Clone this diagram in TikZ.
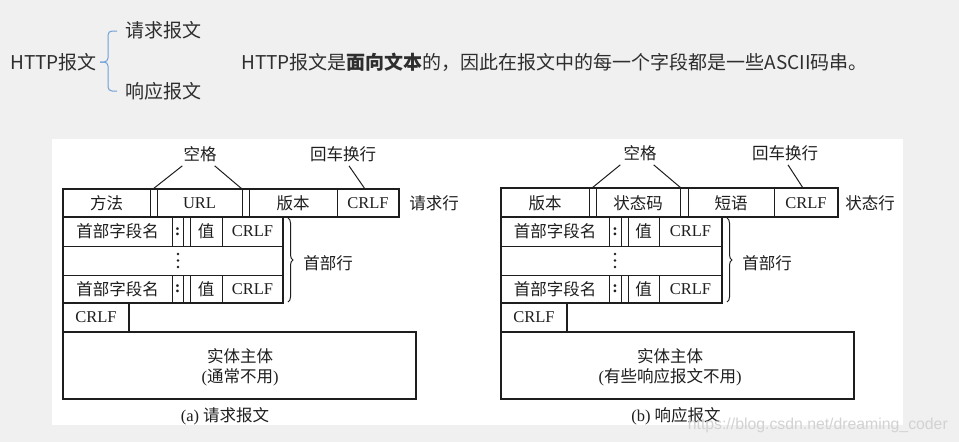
\documentclass[tikz,border=0pt]{standalone}
\usepackage{fontspec}
\setmainfont{Liberation Serif}
\newfontfamily\cjk{Noto Sans CJK SC}
\newfontfamily\wmfont{Liberation Sans}
\usetikzlibrary{decorations.pathreplacing}
\definecolor{ink}{HTML}{1E1E1E}
\definecolor{slide}{HTML}{F0F0F0}
\definecolor{bracecol}{HTML}{6FA0D6}
\definecolor{wm}{HTML}{D2D2D2}
\definecolor{toptext}{HTML}{2E2E2E}
\begin{document}
\begin{tikzpicture}[x=1pt,y=-1pt,
  box/.style={draw=ink, line width=1.5pt},
  thinln/.style={draw=ink, line width=1pt},
  lbl/.style={font=\fontsize{16.5}{19}\selectfont\cjk, text=ink, inner sep=0pt},
  lat/.style={font=\fontsize{16.5}{19}\selectfont, text=ink, inner sep=0pt},
  colon/.style={font=\fontsize{16.5}{19}\selectfont\bfseries, text=ink, inner sep=0pt},
  dotmark/.style={fill=ink, draw=none},
  toplbl/.style={font=\fontsize{19}{22}\selectfont\cjk, text=toptext, inner sep=0pt, anchor=west},
  hbrace/.style={thinln, decorate, decoration={brace, amplitude=5pt}}]
\fill[slide] (0,0) rectangle (959,442);
\useasboundingbox (0,0) rectangle (959,442);
\fill[white] (52,139) rectangle (903,425);

% ---- top text ----
\node[toplbl] (http) at (10,62) {HTTP报文};
\node[toplbl] (req) at (125,30) {请求报文};
\node[toplbl] (resp) at (125,91) {响应报文};
\coordinate (bt) at (117,31);
\coordinate (bb) at (117,91);
\coordinate (bm) at (100,62);
\draw[bracecol, line width=1pt, rounded corners=4pt] (bt) -| (108,62) -- (bm);
\draw[bracecol, line width=1pt, rounded corners=4pt] (bm) -- (108,62) |- (bb);
\node[toplbl] (desc) at (241,62) {HTTP报文是{\bfseries 面向文本}的，因此在报文中的每一个字段都是一些ASCII码串。};

% ================= (a) request =================
\draw[box] (63,189) rectangle (399,217);
\foreach \x in {150,157,242,249,337} \draw[thinln] (\x,189) -- (\x,217);
\node[lbl] (a-meth) at (106.5,203) {方法};
\node[lat] (a-url) at (199.5,203) {URL};
\node[lbl] (a-ver) at (293,203) {版本};
\node[lat] (a-crlf0) at (368,203) {CRLF};
\node[lbl] (a-line) at (434,203) {请求行};
\node[lbl] (a-sp) at (200,154) {空格};
\node[lbl] (a-cr) at (343,154) {回车换行};
\coordinate (a-g1) at (153,189);
\coordinate (a-g2) at (242,189);
\coordinate (a-g3) at (365,189);
\draw[thinln] ([xshift=-1pt,yshift=-4pt]a-sp.south west) -- (a-g1);
\draw[thinln] ([xshift=-2pt,yshift=-4pt]a-sp.south east) -- (a-g2);
\draw[thinln] ([xshift=6pt,yshift=-4pt]a-cr.south) -- (a-g3);

\draw[box] (63,217) rectangle (283,303);
\draw[thinln] (63,246) -- (283,246);
\draw[thinln] (63,275) -- (283,275);
\foreach \x in {172,183,190,222} {
  \draw[thinln] (\x,217) -- (\x,246);
  \draw[thinln] (\x,275) -- (\x,303);
}
\node[lbl] (a-h1n) at (117.5,231.5) {首部字段名};
\node[colon] (a-h1c) at (177.5,231.5) {:};
\node[lbl] (a-h1v) at (206,231.5) {值};
\node[lat] (a-h1r) at (252.5,231.5) {CRLF};
\foreach \y in {254,260.5,267} \fill[dotmark] (178,\y) circle (1.3);
\node[lbl] (a-h3n) at (117.5,289) {首部字段名};
\node[colon] (a-h3c) at (177.5,289) {:};
\node[lbl] (a-h3v) at (206,289) {值};
\node[lat] (a-h3r) at (252.5,289) {CRLF};
\draw[hbrace] (288,218) -- (288,302);
\node[lbl] (a-hdr) at (328,263) {首部行};

\draw[box] (63,303) rectangle (129,332);
\node[lat] (a-crlf) at (96,317.5) {CRLF};
\draw[box] (63,332) rectangle (416,399);
\node[lbl] (a-body1) at (240,356) {实体主体};
\node[lat] (a-body2) at (240,377) {(\cjk 通常不用\rmfamily)};
\node[lat] (a-cap) at (225,416) {(a) \cjk 请求报文};

% ================= (b) response =================
\begin{scope}[xshift=438pt]
\draw[box] (63,188) rectangle (400,217);
\foreach \x in {151,158,242,250,336} \draw[thinln] (\x,188) -- (\x,217);
\node[lbl] (b-ver) at (107,203) {版本};
\node[lbl] (b-code) at (200,203) {状态码};
\node[lbl] (b-phr) at (293,203) {短语};
\node[lat] (b-crlf0) at (368,203) {CRLF};
\node[lbl] (b-line) at (432,203) {状态行};
\node[lbl] (b-sp) at (202,153) {空格};
\node[lbl] (b-cr) at (347,153) {回车换行};
\coordinate (b-g1) at (154,188);
\coordinate (b-g2) at (243,188);
\coordinate (b-g3) at (365,188);
\draw[thinln] ([xshift=-3pt,yshift=-4pt]b-sp.south west) -- (b-g1);
\draw[thinln] ([xshift=-3pt,yshift=-4pt]b-sp.south east) -- (b-g2);
\draw[thinln] ([xshift=3pt,yshift=-4pt]b-cr.south) -- (b-g3);

\draw[box] (63,217) rectangle (284,303);
\draw[thinln] (63,246) -- (284,246);
\draw[thinln] (63,275) -- (284,275);
\foreach \x in {171,183,190,221} {
  \draw[thinln] (\x,217) -- (\x,246);
  \draw[thinln] (\x,275) -- (\x,303);
}
\node[lbl] (b-h1n) at (117,231.5) {首部字段名};
\node[colon] (b-h1c) at (177,231.5) {:};
\node[lbl] (b-h1v) at (205.5,231.5) {值};
\node[lat] (b-h1r) at (252.5,231.5) {CRLF};
\foreach \y in {254,260.5,267} \fill[dotmark] (177,\y) circle (1.3);
\node[lbl] (b-h3n) at (117,289) {首部字段名};
\node[colon] (b-h3c) at (177,289) {:};
\node[lbl] (b-h3v) at (205.5,289) {值};
\node[lat] (b-h3r) at (252.5,289) {CRLF};
\draw[hbrace] (289,218) -- (289,302);
\node[lbl] (b-hdr) at (329,263) {首部行};

\draw[box] (63,303) rectangle (129,332);
\node[lat] (b-crlf) at (96,317.5) {CRLF};
\draw[box] (63,332) rectangle (416,399);
\node[lbl] (b-body1) at (232,356) {实体主体};
\node[lat] (b-body2) at (232,377) {(\cjk 有些响应报文不用\rmfamily)};
\node[lat] (b-cap) at (238,416) {(b) \cjk 响应报文};
\end{scope}

\node[anchor=east, inner sep=0pt, text=wm, font=\fontsize{15.8}{18}\selectfont\wmfont] (wmark) at (948,425) {https://blog.csdn.net/dreaming\_coder};
\end{tikzpicture}
\end{document}
